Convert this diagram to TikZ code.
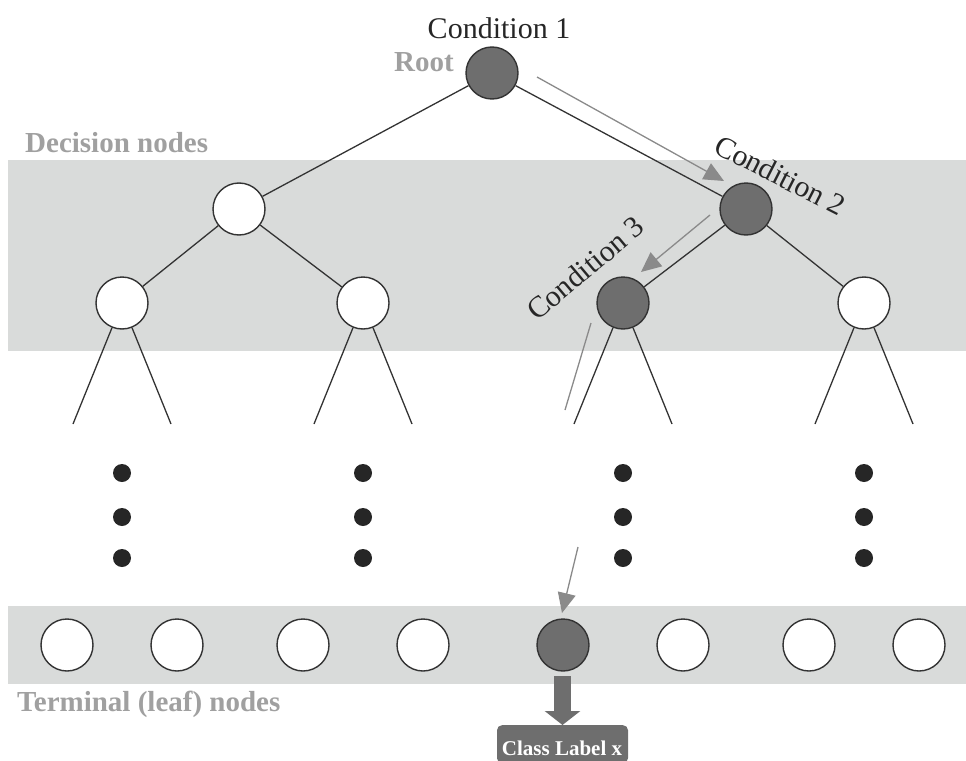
\documentclass[tikz,border=0pt]{standalone}
\usepackage{fontspec}
\setmainfont{Liberation Serif}
\usetikzlibrary{arrows.meta}

\definecolor{bandgray}{HTML}{D9DBDA}
\definecolor{darknode}{HTML}{6E6E6E}
\definecolor{edgeblack}{HTML}{333333}
\definecolor{labelgray}{HTML}{A0A0A0}
\definecolor{pathgray}{HTML}{8A8A8A}
\definecolor{dotblack}{HTML}{262626}

\tikzset{
  treenode/.style={circle, draw=edgeblack, line width=1.4pt, fill=white,
                   minimum size=52pt, inner sep=0pt},
  chosen/.style={treenode, fill=darknode},
  edge/.style={draw=edgeblack, line width=1.3pt},
  pathline/.style={draw=pathgray, line width=1.3pt},
  patharrow/.style={pathline, -{Triangle[length=20pt,width=18pt]}},
  levellabel/.style={text=labelgray, font=\fontsize{29}{34}\selectfont\bfseries, inner sep=0pt},
  condlabel/.style={text=black!85, font=\fontsize{30}{36}\selectfont, inner sep=0pt},
  vdot/.style={circle, fill=dotblack, minimum size=18pt, inner sep=0pt},
  classbox/.style={rectangle, rounded corners=5pt, fill=darknode,
                   minimum width=131pt, minimum height=38pt, inner sep=0pt},
  classtext/.style={text=white, font=\fontsize{21}{25}\selectfont\bfseries, inner sep=0pt}
}

\begin{document}
\begin{tikzpicture}[x=1pt, y=-1pt]
  \useasboundingbox (0,0) rectangle (966,760);

  % shaded bands
  \fill[bandgray] (8,160) rectangle (966,351);
  \fill[bandgray] (8,606) rectangle (966,684);

  % level labels
  \node[levellabel, anchor=base west] (declab) at (25,152) {Decision nodes};
  \node[levellabel, anchor=base west] (termlab) at (17,711) {Terminal (leaf) nodes};
  \node[levellabel, anchor=base] (rootlab) at (424,71) {Root};

  % tree nodes
  \node[chosen] (root) at (492,73) {};
  \node[treenode] (n1) at (239,209) {};
  \node[chosen] (c2) at (746,209) {};
  \node[treenode] (n3) at (122,303) {};
  \node[treenode] (n4) at (363,303) {};
  \node[chosen] (c3) at (623,303) {};
  \node[treenode] (n6) at (864,303) {};

  % condition labels
  \node[condlabel, anchor=base] (cond1) at (499,38) {Condition 1};
  \node[condlabel, anchor=base west, rotate=-27] (cond2) at (712,152) {Condition 2};
  \node[condlabel, anchor=base west, rotate=40] (cond3) at (537,322) {Condition 3};

  % tree edges
  \draw[edge] (root) -- (n1);
  \draw[edge] (root) -- (c2);
  \draw[edge] (n1) -- (n3);
  \draw[edge] (n1) -- (n4);
  \draw[edge] (c2) -- (c3);
  \draw[edge] (c2) -- (n6);

  % open branches below the second level
  \foreach \n/\x in {n3/122, n4/363, c3/623, n6/864}{
    \coordinate (\n-l) at (\x-49,424);
    \coordinate (\n-r) at (\x+49,424);
    \draw[edge] (\n) -- (\n-l);
    \draw[edge] (\n) -- (\n-r);
  }

  % vertical ellipses
  \foreach \x [count=\i] in {122, 363, 623, 864}{
    \node[vdot] (dA\i) at (\x,473) {};
    \node[vdot] (dB\i) at (\x,517) {};
    \node[vdot] (dC\i) at (\x,558) {};
  }

  % leaves
  \foreach \x [count=\i] in {67, 177, 303, 423, 683, 809, 919}{
    \node[treenode] (leaf\i) at (\x,645) {};
  }
  \node[chosen] (hit) at (563,645) {};

  % decision path
  \coordinate (p1s) at (537,77);
  \coordinate (p1e) at (724,181);
  \coordinate (p2s) at (710,215);
  \coordinate (p2e) at (641,272);
  \coordinate (p3s) at (591,323);
  \coordinate (p3e) at (565,410);
  \coordinate (p4s) at (578,547);
  \coordinate (p4e) at (562,613);
  \draw[patharrow] (p1s) -- (p1e);
  \draw[patharrow] (p2s) -- (p2e);
  \draw[pathline] (p3s) -- (p3e);
  \draw[patharrow] (p4s) -- (p4e);

  % output
  \node[classbox, anchor=north] (cls) at (562.5,725) {};
  \node[classtext, anchor=base] (clstext) at (562,755) {Class Label x};
  \coordinate (outs) at (562.5,676);
  \draw[darknode, line width=17pt, -{Triangle[length=14pt,width=35pt]}] (outs) -- (cls.north);
\end{tikzpicture}
\end{document}
